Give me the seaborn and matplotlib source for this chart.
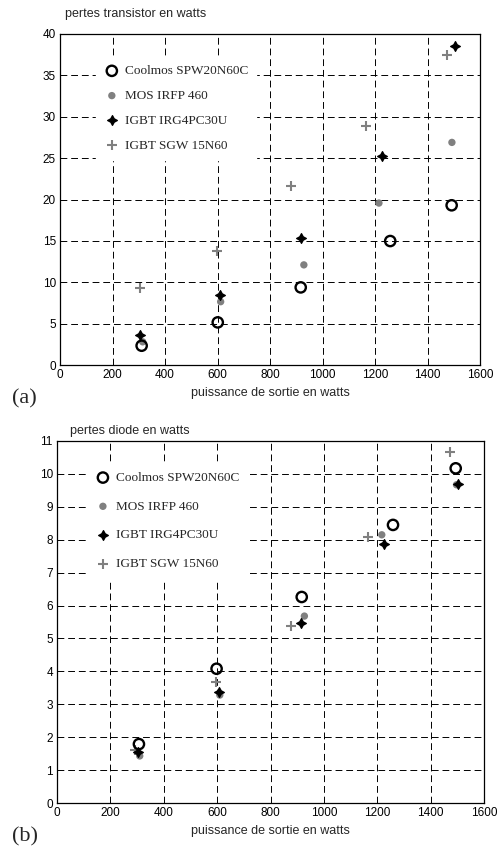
import matplotlib
matplotlib.use("Agg")
import matplotlib.pyplot as plt
import seaborn as sns
import pandas as pd

sns.set_theme(style="white")
plt.rcParams['font.family'] = ['Liberation Sans', 'DejaVu Sans']

series = ["Coolmos SPW20N60C", "MOS IRFP 460", "IGBT IRG4PC30U", "IGBT SGW 15N60"]

# (a) transistor losses
tr_cool_x = [311, 601, 917, 1258, 1492]
tr_cool_y = [2.33, 5.15, 9.38, 14.98, 19.3]
tr_mos_x = [315, 612, 929, 1215, 1493]
tr_mos_y = [2.8, 7.65, 12.1, 19.57, 26.9]
tr_irg_x = [305, 610, 917, 1227, 1505]
tr_irg_y = [3.62, 8.45, 15.4, 25.2, 38.6]
tr_sgw_x = [304, 599, 879, 1166, 1476]
tr_sgw_y = [9.26, 13.8, 21.66, 28.9, 37.5]

# (b) diode losses
di_cool_x = [307, 598, 917, 1259, 1494]
di_cool_y = [1.79, 4.08, 6.26, 8.45, 10.17]
di_mos_x = [310, 610, 927, 1217, 1497]
di_mos_y = [1.43, 3.28, 5.68, 8.15, 9.67]
di_irg_x = [305, 607, 913, 1225, 1504]
di_irg_y = [1.55, 3.38, 5.47, 7.88, 9.7]
di_sgw_x = [292, 595, 877, 1167, 1471]
di_sgw_y = [1.61, 3.68, 5.37, 8.08, 10.68]

x_ticks = [0, 200, 400, 600, 800, 1000, 1200, 1400, 1600]
ya_ticks = [0, 5, 10, 15, 20, 25, 30, 35, 40]
yb_ticks = list(range(0, 12))

GREY = "#808080"
STAR4 = (4, 1, 0)

fig = plt.figure(figsize=(5.04, 8.51), dpi=100)
ax_a = fig.add_axes([60/504, 1-365/851, 420/504, 331/851])
ax_b = fig.add_axes([57/504, 1-803/851, 427/504, 362/851])


def draw(ax, data, ylim, yticks, label_spacing, anchor, xpad):
    (cx, cy), (mx, my), (ix, iy), (sx, sy) = data
    sns.scatterplot(x=cx, y=cy, ax=ax, marker="o", s=55, facecolors="none",
                    edgecolor="black", linewidth=1.7, label=series[0], zorder=5)
    sns.scatterplot(x=mx, y=my, ax=ax, marker="o", s=28, color=GREY,
                    edgecolor="none", label=series[1], zorder=4)
    sns.scatterplot(x=ix, y=iy, ax=ax, marker=STAR4, s=50, color="black",
                    edgecolor="black", linewidth=0.9, label=series[2], zorder=6)
    sns.scatterplot(x=sx, y=sy, ax=ax, marker="+", s=48, color=GREY,
                    linewidth=1.5, label=series[3], zorder=3)
    ax.set_xlim(0, 1600)
    ax.set_ylim(*ylim)
    ax.set_xticks(x_ticks)
    ax.set_yticks(yticks)
    ax.tick_params(labelsize=8.5, direction="in", length=0, pad=3, colors="black")
    ax.grid(True, color="black", linestyle=(0, (7, 4)), linewidth=0.7)
    ax.set_axisbelow(True)
    for sp in ax.spines.values():
        sp.set_color("black")
        sp.set_linewidth(0.9)
    ax.set_xlabel("puissance de sortie en watts", fontsize=9, labelpad=xpad)
    ax.set_ylabel("")
    leg = ax.legend(loc="upper left", bbox_to_anchor=anchor, frameon=True,
                    facecolor="white", edgecolor="white", framealpha=1,
                    prop={"family": "Liberation Serif", "size": 9.5},
                    labelspacing=label_spacing, handletextpad=0.4,
                    handlelength=1.2, borderpad=0.6, fancybox=False)
    leg.set_zorder(10)


draw(ax_a, [(tr_cool_x, tr_cool_y), (tr_mos_x, tr_mos_y), (tr_irg_x, tr_irg_y),
            (tr_sgw_x, tr_sgw_y)], (0, 40), ya_ticks, 0.95, (0.07, 0.95), 4)
draw(ax_b, [(di_cool_x, di_cool_y), (di_mos_x, di_mos_y), (di_irg_x, di_irg_y),
            (di_sgw_x, di_sgw_y)], (0, 11), yb_ticks, 1.25, (0.055, 0.955), 4)

fig.text(65/504, 1-14/851, "pertes transistor en watts", fontsize=9, va="center", ha="left")
fig.text(70/504, 1-431/851, "pertes diode en watts", fontsize=9, va="center", ha="left")
fig.text(12/504, 1-399/851, "(a)", fontsize=16, family="Liberation Serif", va="center", ha="left")
fig.text(12/504, 1-837/851, "(b)", fontsize=16, family="Liberation Serif", va="center", ha="left")

fig.savefig("out.png", dpi=100)
